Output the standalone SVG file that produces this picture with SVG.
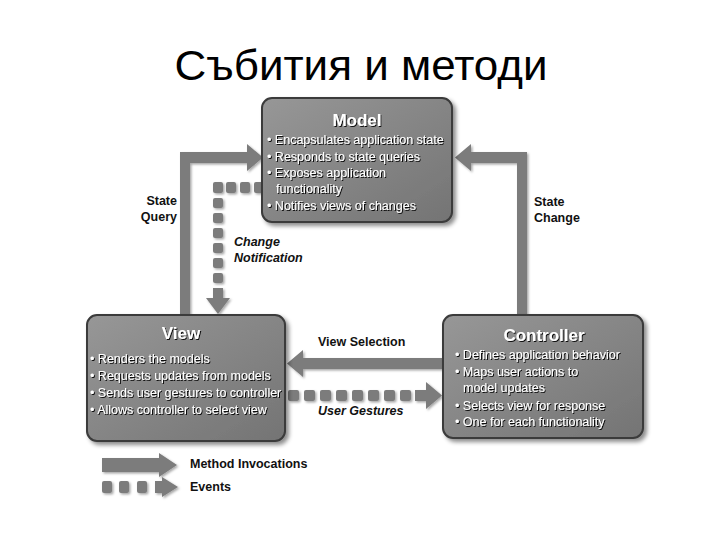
<svg xmlns="http://www.w3.org/2000/svg" width="720" height="540" viewBox="0 0 720 540">
<style>
.title{font-family:"Liberation Sans",Arial,sans-serif;font-size:43px;fill:#000;text-anchor:middle}
.box{fill:url(#boxg);stroke:#3a3a3a;stroke-width:2}
.bt{font-family:"Liberation Sans",Arial,sans-serif;font-weight:bold;font-size:17px;fill:#fff;text-anchor:middle}
.bl{font-family:"Liberation Sans",Arial,sans-serif;font-size:12.5px;fill:#fff}
.lab{font-family:"Liberation Sans",Arial,sans-serif;font-weight:bold;font-size:12.5px;fill:#111}
.it{font-style:italic}
.arr{fill:#7b7b7b}
</style>
<defs>
<linearGradient id="boxg" x1="0" y1="0" x2="1" y2="1">
<stop offset="0" stop-color="#979797"/>
<stop offset="1" stop-color="#747474"/>
</linearGradient>
<filter id="sh" x="-10%" y="-10%" width="130%" height="130%">
<feDropShadow dx="3" dy="3" stdDeviation="2" flood-color="#000" flood-opacity="0.45"/>
</filter>
<filter id="tsh" x="-5%" y="-20%" width="110%" height="150%">
<feDropShadow dx="1" dy="1" stdDeviation="0.4" flood-color="#000" flood-opacity="0.9"/>
</filter>
<filter id="ash" x="-10%" y="-10%" width="130%" height="130%">
<feDropShadow dx="1.5" dy="1.5" stdDeviation="1" flood-color="#000" flood-opacity="0.35"/>
</filter>
</defs>
<rect width="720" height="540" fill="#fff"/>
<text class="title" x="361" y="80" textLength="373" lengthAdjust="spacingAndGlyphs">Събития и методи</text>

<g id="connectors" filter="url(#ash)">
<g id="state-query">
<polygon class="arr" points="180,315 180,152 247,152 247,144 263,157.5 247,171 247,163 190,163 190,315"/>
</g>
<g id="state-change">
<polygon class="arr" points="517,315 517,163 471,163 471,171 455,157.5 471,144 471,152 527,152 527,315"/>
</g>
<g id="view-selection">
<polygon class="arr" points="443,358 303,358 303,350 287,363.5 303,377 303,369 443,369"/>
</g>
<g id="change-notification" class="arr">
<rect x="254" y="182" width="9" height="11" rx="2"/>
<rect x="240" y="182" width="10" height="11" rx="2"/>
<rect x="226" y="182" width="10" height="11" rx="2"/>
<rect x="213" y="182" width="10" height="11" rx="2"/>
<rect x="213" y="198" width="10" height="10" rx="2"/>
<rect x="213" y="213" width="10" height="10" rx="2"/>
<rect x="213" y="228" width="10" height="10" rx="2"/>
<rect x="213" y="243" width="10" height="10" rx="2"/>
<rect x="213" y="258" width="10" height="10" rx="2"/>
<rect x="213" y="273" width="10" height="10" rx="2"/>
<polygon points="206,298 218,314 230,298 223,298 223,288 213,288 213,298"/>
</g>
<g id="user-gestures" class="arr">
<rect x="288" y="390" width="11" height="11" rx="2"/>
<rect x="304" y="390" width="11" height="11" rx="2"/>
<rect x="320" y="390" width="11" height="11" rx="2"/>
<rect x="336" y="390" width="11" height="11" rx="2"/>
<rect x="352" y="390" width="11" height="11" rx="2"/>
<rect x="368" y="390" width="11" height="11" rx="2"/>
<rect x="384" y="390" width="11" height="11" rx="2"/>
<rect x="400" y="390" width="11" height="11" rx="2"/>
<polygon points="415,390 426,390 426,382 442,395.5 426,409 426,401 415,401"/>
</g>
</g>

<g id="labels">
<text class="lab" x="177" y="205" text-anchor="end">State</text>
<text class="lab" x="177" y="221" text-anchor="end">Query</text>
<text class="lab it" x="234" y="246">Change</text>
<text class="lab it" x="234" y="262">Notification</text>
<text class="lab" x="534" y="206">State</text>
<text class="lab" x="534" y="222">Change</text>
<text class="lab" x="318" y="346">View Selection</text>
<text class="lab it" x="318" y="415">User Gestures</text>
</g>

<g id="model">
<rect class="box" x="262" y="98" width="190" height="124" rx="10" filter="url(#sh)"/>
<g filter="url(#tsh)">
<text class="bt" x="357" y="126">Model</text>
<text class="bl" x="267" y="144">• Encapsulates application state</text>
<text class="bl" x="267" y="161">• Responds to state queries</text>
<text class="bl" x="267" y="177">• Exposes application</text>
<text class="bl" x="276" y="193">functionality</text>
<text class="bl" x="267" y="210">• Notifies views of changes</text>
</g>
</g>

<g id="view">
<rect class="box" x="87" y="315" width="198" height="126" rx="10" filter="url(#sh)"/>
<g filter="url(#tsh)">
<text class="bt" x="181" y="339">View</text>
<text class="bl" x="90" y="363">• Renders the models</text>
<text class="bl" x="90" y="380">• Requests updates from models</text>
<text class="bl" x="90" y="397">• Sends user gestures to controller</text>
<text class="bl" x="90" y="414">• Allows controller to select view</text>
</g>
</g>

<g id="controller">
<rect class="box" x="443" y="315" width="200" height="123" rx="10" filter="url(#sh)"/>
<g filter="url(#tsh)">
<text class="bt" x="544" y="341">Controller</text>
<text class="bl" x="455" y="359">• Defines application behavior</text>
<text class="bl" x="455" y="376">• Maps user actions to</text>
<text class="bl" x="463" y="392">model updates</text>
<text class="bl" x="455" y="410">• Selects view for response</text>
<text class="bl" x="455" y="426">• One for each functionality</text>
</g>
</g>

<g id="legend">
<g filter="url(#ash)" class="arr">
<polygon points="102,458 159,458 159,453 177,465 159,477 159,472 102,472"/>
<rect x="102" y="481" width="10" height="12" rx="2"/>
<rect x="119" y="481" width="10" height="12" rx="2"/>
<rect x="137" y="481" width="10" height="12" rx="2"/>
<polygon points="155,481 162,481 162,477 178,487 162,497 162,493 155,493"/>
</g>
<text class="lab" x="190" y="468" font-size="13.5">Method Invocations</text>
<text class="lab" x="190" y="491" font-size="13.5">Events</text>
</g>
</svg>
